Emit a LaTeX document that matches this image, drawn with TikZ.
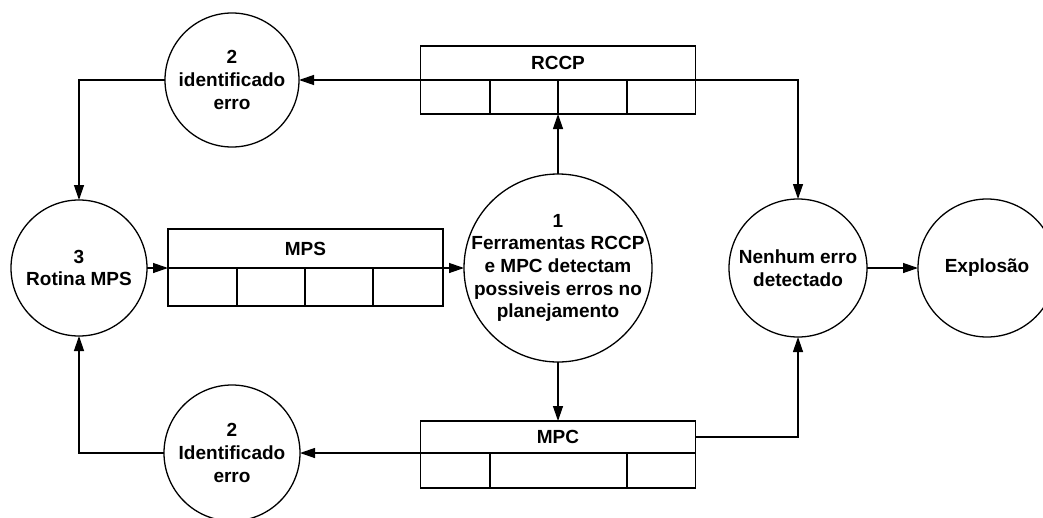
\documentclass[tikz,border=0pt]{standalone}
\usepackage{fontspec}
\setmainfont{Liberation Sans}
\usetikzlibrary{arrows.meta, positioning}
\tikzstyle{bubble} = [
    circle,
    minimum size=136pt,
    inner sep=-12pt,
    outer sep=0pt,
    align=center,
    draw=black
]
\tikzstyle{storehead} = [
    rectangle,
    minimum width=275pt,
    inner sep=0pt,
    outer sep=0pt,
    draw=black
]
\tikzstyle{arrow} = [->,>={Triangle[length=15pt,width=10pt]}]

\begin{document}
\begin{tikzpicture}[x=1pt, y=-1pt, line width=1.3pt,
    font=\bfseries\fontsize{19}{22.7}\selectfont]
\useasboundingbox (0,0) rectangle (1043,517);

\node (proc1) [bubble, minimum size=188pt] at (558,268)
{1\\Ferramentas RCCP\\e MPC detectam\\possiveis erros no\\planejamento};

\node (erro1) [bubble, minimum size=134pt] at (232,80)
{2\\identificado\\erro};

\node (erro2) [bubble] at (232,453)
{2\\Identificado\\erro};

\node (rotina) [bubble] at (79,268)
{3\\Rotina MPS};

\node (nenhum) [bubble, minimum size=138pt] at (798,268)
{Nenhum erro\\detectado};

\node (explosao) [bubble, minimum size=138pt] at (987,268)
{Explos\~ao};

\node (rccp) [storehead, minimum height=34pt] at (558,63) {RCCP};
\node (rccpcells) [storehead, minimum height=34pt, below=0pt of rccp] {};

\node (mps) [storehead, minimum height=39pt] at (305.5,248.5) {MPS};
\node (mpscells) [storehead, minimum height=38pt, below=0pt of mps] {};

\node (mpc) [storehead, minimum height=32pt] at (558,437) {MPC};
\node (mpccells) [storehead, minimum height=35pt, below=0pt of mpc] {};

\foreach \x in {490,558,627}
    \draw (\x,0 |- rccpcells.north) -- (\x,0 |- rccpcells.south);
\foreach \x in {237,305,373}
    \draw (\x,0 |- mpscells.north) -- (\x,0 |- mpscells.south);
\foreach \x in {490,627}
    \draw (\x,0 |- mpccells.north) -- (\x,0 |- mpccells.south);

\draw [arrow] (rccp.south west) -- (erro1.east);
\draw [arrow] (erro1.west) -| (rotina.north);
\draw [arrow] (rccp.south east) -| (nenhum.north);
\draw [arrow] (proc1.north) -- (rccpcells.south);
\draw [arrow] (rotina.east) -- (mps.south west);
\draw [arrow] (mps.south east) -- (proc1.west);
\draw [arrow] (proc1.south) -- (mpc.north);
\draw [arrow] (mpc.east) -| (nenhum.south);
\draw [arrow] (mpc.south west) -- (erro2.east);
\draw [arrow] (erro2.west) -| (rotina.south);
\draw [arrow] (nenhum.east) -- (explosao.west);

\end{tikzpicture}
\end{document}
